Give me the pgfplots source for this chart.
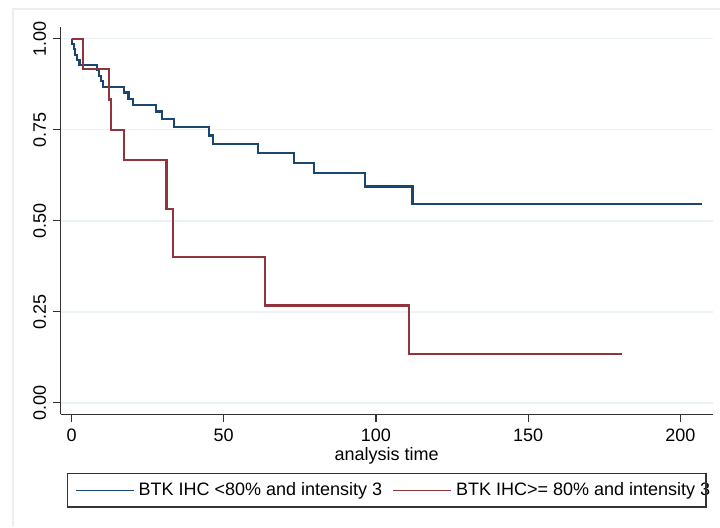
\documentclass[border=0pt]{standalone}
\usepackage{fontspec}
\setmainfont{Liberation Sans}
\usepackage{pgfplots}
\pgfplotsset{compat=1.18}
\usetikzlibrary{calc}
\definecolor{stblue}{RGB}{26,71,111}
\definecolor{stred}{RGB}{144,53,59}
\definecolor{stgrid}{RGB}{234,242,243}
\definecolor{stframe}{RGB}{236,238,240}
\begin{document}
\begin{tikzpicture}[font=\fontsize{9}{10.8}\selectfont]
\begin{axis}[name=ax, scale only axis, width=326pt, height=193.7pt,
  xmin=-3.55, xmax=210.6, ymin=-0.032, ymax=1.032,
  axis x line*=bottom, axis y line*=left,
  axis line style={line width=0.7pt, color=black!80, -},
  /pgf/number format/assume math mode=true,
  xtick={0,50,100,150,200},
  ytick={0,0.25,0.5,0.75,1},
  yticklabel={\pgfmathprintnumber[fixed,fixed zerofill,precision=2]{\tick}},
  yticklabel style={rotate=90, anchor=south},
  tick label style={font=\fontsize{9}{10.8}\selectfont},
  tick align=outside, major tick length=3.85pt,
  tick style={line width=0.7pt, color=black!80},
  ymajorgrids, grid style={stgrid, line width=0.8pt},
  xlabel={analysis time},
  xlabel style={at={(axis description cs:0.5,0)}, anchor=base, yshift=-22.85pt},
  legend columns=2,
  legend image code/.code={\draw[#1, line width=0.6pt] (0pt,0pt) -- (29pt,0pt);},
  legend style={at={(0,0)}, anchor=west, xshift=7.15pt, yshift=-37.85pt,
    draw=none, fill=none, inner sep=0pt,
    font=\fontsize{9}{10.8}\selectfont,
    /tikz/every even column/.append style={column sep=3.3pt}},
  clip=false,
]
\addplot[const plot, stblue, line width=1.1pt] coordinates {
(0,1.0) (0.2,0.985) (0.7,0.971) (1.25,0.956) (1.9,0.942) (2.6,0.928)
(8.3,0.913) (9.0,0.898) (9.8,0.883) (10.4,0.868)
(17.2,0.852) (18.7,0.834) (20.3,0.818)
(27.7,0.800) (29.6,0.779) (33.7,0.758)
(45.2,0.734) (46.4,0.711) (61.3,0.686) (73.1,0.659) (79.6,0.630)
(96.5,0.594) (112.0,0.545) (207.0,0.545)
};
\addlegendentry{BTK IHC <80\% and intensity 3}
\addplot[const plot, stred, line width=1.1pt] coordinates {
(0,1.0) (3.7,0.917) (12.3,0.833) (13.0,0.750) (17.2,0.667)
(31.2,0.533) (33.4,0.400) (63.5,0.267) (110.8,0.133) (180.7,0.133)
};
\addlegendentry{BTK IHC>= 80\% and intensity 3}
\end{axis}
\draw[black!80, line width=0.7pt] ($(ax.south west)+(3.3pt,-29.5pt)$) rectangle ($(ax.south west)+(322.65pt,-46.2pt)$);
\draw[stframe, line width=0.8pt] ($(ax.south west)+(-24pt,-56.35pt)$) |- ($(ax.north east)+(3.65pt,9pt)$);
\pgfresetboundingbox
\path ($(ax.south west)+(-30.35pt,-56.35pt)$) rectangle ($(ax.north east)+(3.65pt,13.5pt)$);
\end{tikzpicture}
\end{document}
